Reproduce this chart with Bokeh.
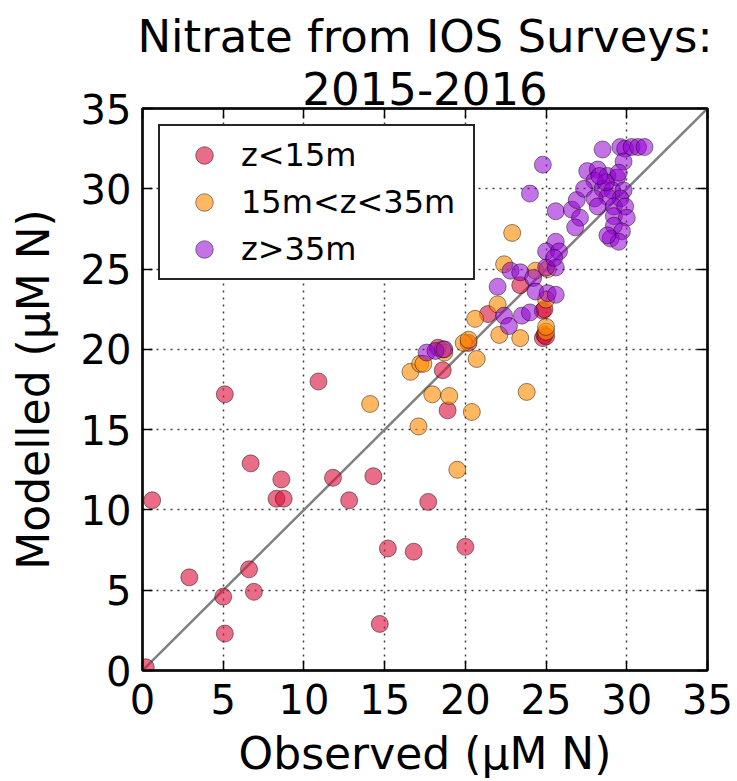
from bokeh.plotting import figure
from bokeh.models import (Range1d, LinearAxis, SingleIntervalTicker, Legend, LegendItem,
                          CustomJSTickFormatter, Title)
from bokeh.embed import file_html
from bokeh.resources import INLINE

# ---- data ----
obs_shallow = [0.2, 0.6, 2.9, 5.1, 5.0, 5.1, 6.7, 6.6, 6.9, 8.3, 8.6, 8.75, 10.9, 11.8, 12.8,
               14.3, 14.7, 15.2, 16.8, 17.7, 20.0, 18.9, 18.6, 18.3, 20.2, 21.4, 23.4,
               24.8, 24.9, 24.8, 24.9, 25.0]
mod_shallow = [0.2, 10.6, 5.8, 17.2, 4.6, 2.3, 12.9, 6.3, 4.9, 10.7, 11.9, 10.7, 18.0, 12.0, 10.6,
               12.1, 2.9, 7.6, 7.4, 10.5, 7.7, 16.2, 18.7, 20.1, 20.4, 22.2, 24.0,
               22.4, 22.5, 20.7, 20.9, 20.8]

obs_mid = [14.1, 17.1, 16.6, 17.2, 17.4, 17.95, 19.0, 18.7, 19.9, 20.2, 20.7, 20.4, 19.5, 23.8,
           20.6, 22.0, 22.1, 23.4, 22.4, 22.9, 24.35, 25.0, 25.0, 25.0, 25.1, 18.6]
mod_mid = [16.6, 15.2, 18.6, 19.1, 19.1, 17.2, 17.1, 19.8, 20.4, 20.6, 19.4, 16.1, 12.5, 17.35,
           21.9, 22.8, 20.9, 20.7, 25.3, 27.25, 24.9, 21.1, 21.4, 23.1, 25.0, 20.0]

obs_deep = [29.6, 29.9, 30.3, 30.7, 31.1, 28.5, 29.8, 24.8, 24.0, 25.6, 26.6, 27.1, 26.8, 25.6,
            25.0, 25.8, 26.9, 27.55, 28.2, 28.8, 29.4, 28.0, 28.5, 27.35, 29.1, 29.8, 29.6,
            28.8, 28.0, 28.2, 29.2, 29.9, 29.2, 30.0, 29.2, 29.7, 29.0, 29.5, 28.8, 28.7,
            29.5, 28.3, 22.8, 23.4, 24.2, 25.0, 25.6, 25.5, 22.0, 24.35, 25.1, 25.6, 22.4,
            22.7, 23.5, 24.0, 17.6, 18.15, 18.7]
mod_deep = [32.6, 32.5, 32.6, 32.6, 32.6, 32.45, 31.7, 31.5, 29.7, 28.6, 28.7, 28.2, 27.6, 26.7,
            26.1, 26.1, 29.3, 31.1, 31.2, 30.8, 30.7, 30.5, 30.0, 30.0, 29.9, 29.9, 29.4,
            29.5, 29.4, 28.9, 28.9, 28.9, 28.3, 28.2, 27.7, 27.35, 26.9, 26.7, 27.1, 30.4,
            31.0, 30.8, 24.9, 24.8, 24.45, 25.1, 25.1, 25.7, 23.9, 23.6, 23.5, 23.4, 22.1,
            21.45, 22.1, 22.3, 19.8, 19.9, 20.0]

series_labels = ["z<15m", "15m<z<35m", "z>35m"]
series_colors = ["crimson", "darkorange", "darkviolet"]
series_alpha = [0.62, 0.62, 0.55]
title_lines = ["Nitrate from IOS Surveys:", "2015-2016"]
one_to_one = [0, 35]
tick_interval = 5

FONT = "DejaVu Sans"

p = figure(width=737, height=781,
           x_range=Range1d(0, 35), y_range=Range1d(0, 35),
           output_backend="svg", toolbar_location=None,
           min_border_left=142, min_border_right=30, min_border_top=108, min_border_bottom=109,
           x_axis_label="Observed (μM N)", y_axis_label="Modelled (μM N)")
p.title = None
p.background_fill_color = "white"
p.border_fill_color = "white"
p.outline_line_color = "black"
p.outline_line_width = 2.5
p.outline_line_alpha = 0.8

for ax in (p.xaxis[0], p.yaxis[0]):
    ax.ticker = SingleIntervalTicker(interval=tick_interval, num_minor_ticks=0)
    ax.major_tick_in = 10
    ax.major_tick_out = 0
    ax.minor_tick_in = 0
    ax.minor_tick_out = 0
    ax.axis_line_width = 2.5
    ax.axis_line_alpha = 0.8
    ax.major_tick_line_width = 1.5
    ax.major_label_text_font = FONT
    ax.major_label_text_font_size = "40px"
    ax.major_label_text_color = "black"
    ax.axis_label_text_font = FONT
    ax.axis_label_text_font_size = "44px"
    ax.axis_label_text_font_style = "normal"
    ax.axis_label_text_color = "black"

p.xaxis.major_label_standoff = 13
p.xaxis.axis_label_standoff = 11
p.yaxis.major_label_standoff = 11
p.yaxis.axis_label_standoff = 19

# mirrored tick axes (top/right) without labels
for loc in ("above", "right"):
    ax = LinearAxis(ticker=SingleIntervalTicker(interval=tick_interval, num_minor_ticks=0),
                    formatter=CustomJSTickFormatter(code="return ''"),
                    major_tick_in=10, major_tick_out=0, minor_tick_in=0, minor_tick_out=0,
                    major_tick_line_width=1.5, axis_line_width=2.5, axis_line_alpha=0.8,
                    major_label_text_font_size="1px", major_label_standoff=0)
    p.add_layout(ax, loc)

# two-line title: inner line first (closest to the frame), then the outer line
for line, so in zip(reversed(title_lines), (8, 6)):
    p.add_layout(Title(text=line, align="center", text_font=FONT, text_font_size="45px",
                       text_font_style="normal", text_color="black", standoff=so), "above")

for g in (p.xgrid[0], p.ygrid[0]):
    g.ticker = SingleIntervalTicker(interval=tick_interval, num_minor_ticks=0)
    g.grid_line_color = "black"
    g.grid_line_alpha = 0.75
    g.grid_line_dash = "2 5"
    g.grid_line_width = 1.5

# 1:1 line
p.line(one_to_one, one_to_one, line_color="gray", line_width=2.5)

renderers = []
for xs, ys, col, al in ((obs_shallow, mod_shallow, series_colors[0], series_alpha[0]),
                        (obs_mid, mod_mid, series_colors[1], series_alpha[1]),
                        (obs_deep, mod_deep, series_colors[2], series_alpha[2])):
    r = p.scatter(xs, ys, size=17, marker="circle", fill_color=col, fill_alpha=al,
                  line_color="black", line_alpha=0.45, line_width=1)
    renderers.append(r)

legend = Legend(items=[LegendItem(label=lab, renderers=[r]) for lab, r in zip(series_labels, renderers)],
                location="top_left", margin=16, padding=7, spacing=3,
                glyph_width=74, glyph_height=44, label_height=44, label_width=225,
                label_standoff=0,
                label_text_font=FONT, label_text_font_size="32px", label_text_color="black",
                border_line_color="black", border_line_width=2, border_line_alpha=0.85,
                background_fill_color="white", background_fill_alpha=1.0)
p.add_layout(legend)

open("out.html", "w").write(file_html(p, INLINE))
